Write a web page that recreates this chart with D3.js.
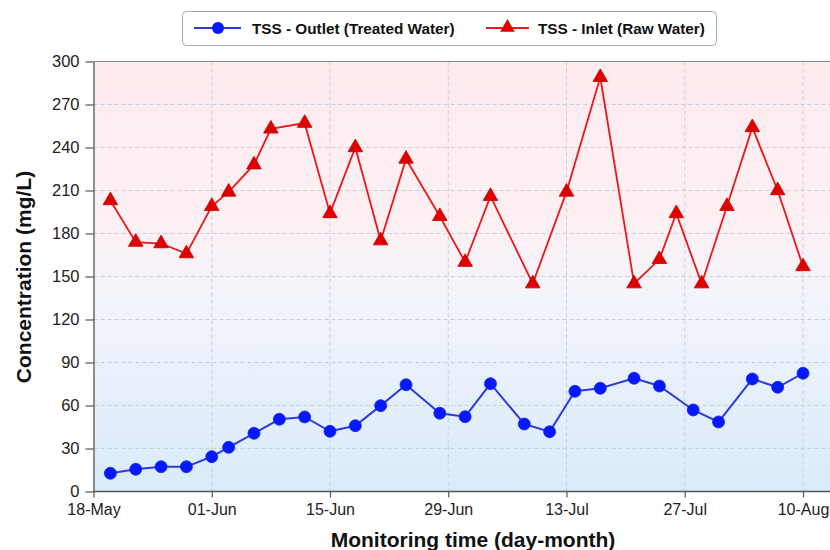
<!DOCTYPE html>
<html>
<head>
<meta charset="utf-8">
<script src="https://cdn.jsdelivr.net/npm/d3@7"></script>
<style>
  html, body { margin: 0; padding: 0; background: #ffffff; }
  svg { display: block; font-family: "Liberation Sans", Arial, Helvetica, sans-serif; }
</style>
</head>
<body>
<svg id="chart" width="830" height="550"></svg>
<script>
// ---------------- DATA ----------------
const outletDates = ["2021-05-20","2021-05-23","2021-05-26","2021-05-29","2021-06-01","2021-06-03","2021-06-06","2021-06-09","2021-06-12","2021-06-15","2021-06-18","2021-06-21","2021-06-24","2021-06-28","2021-07-01","2021-07-04","2021-07-08","2021-07-11","2021-07-14","2021-07-17","2021-07-21","2021-07-24","2021-07-28","2021-07-31","2021-08-04","2021-08-07","2021-08-10"];
const outletValues = [12.7, 15.5, 17.3, 17.3, 24.3, 30.8, 40.6, 50.4, 52, 42, 45.9, 59.9, 74.5, 54.6, 52.2, 75.2, 47.1, 41.7, 69.9, 72, 79, 73.6, 56.9, 48.5, 78.5, 72.7, 82.5];

const inletDates = ["2021-05-20","2021-05-23","2021-05-26","2021-05-29","2021-06-01","2021-06-03","2021-06-06","2021-06-08","2021-06-12","2021-06-15","2021-06-18","2021-06-21","2021-06-24","2021-06-28","2021-07-01","2021-07-04","2021-07-09","2021-07-13","2021-07-17","2021-07-21","2021-07-24","2021-07-26","2021-07-29","2021-08-01","2021-08-04","2021-08-07","2021-08-10"];
const inletValues = [203, 174, 173, 166, 199, 209, 228, 253, 257, 194, 240, 175, 232, 192, 160, 206, 145, 209, 289, 145, 162, 194, 145, 199, 254, 210, 157];

const xTickDates = ["2021-05-18","2021-06-01","2021-06-15","2021-06-29","2021-07-13","2021-07-27","2021-08-10"];
const yTickValues = [0, 30, 60, 90, 120, 150, 180, 210, 240, 270, 300];

const seriesNames = ["TSS - Outlet (Treated Water)", "TSS - Inlet (Raw Water)"];
const xTitle = "Monitoring time (day-month)";
const yTitle = "Concentration (mg/L)";

// ---------------- SETUP ----------------
const parse = d3.timeParse("%Y-%m-%d");
const fmt = d3.timeFormat("%d-%b");
const svg = d3.select("#chart");

const mLeft = 93.5, mTop = 61.5, mBottom = 491.5, plotRight = 840;

const x = d3.scaleTime()
  .domain([parse(xTickDates[0]), parse(xTickDates[xTickDates.length - 1])])
  .range([mLeft, 803]);
const y = d3.scaleLinear().domain([0, 300]).range([mBottom, mTop]);

// background gradient
const defs = svg.append("defs");
const grad = defs.append("linearGradient").attr("id", "bg").attr("x1", 0).attr("y1", 0).attr("x2", 0).attr("y2", 1);
grad.append("stop").attr("offset", "0%").attr("stop-color", "#fdebee");
grad.append("stop").attr("offset", "38%").attr("stop-color", "#fcf0f3");
grad.append("stop").attr("offset", "55%").attr("stop-color", "#f3f4fb");
grad.append("stop").attr("offset", "100%").attr("stop-color", "#d9ebfa");

svg.append("rect")
  .attr("x", mLeft).attr("y", mTop)
  .attr("width", plotRight - mLeft).attr("height", mBottom - mTop)
  .attr("fill", "url(#bg)");

// gridlines
const grid = svg.append("g");
grid.selectAll("line.h").data(yTickValues.filter(v => v > 0 && v < 300)).join("line")
  .attr("x1", mLeft).attr("x2", plotRight)
  .attr("y1", d => y(d)).attr("y2", d => y(d))
  .attr("stroke", "#c6cde0").attr("stroke-width", 1).attr("stroke-dasharray", "4,3");
grid.append("g").selectAll("line").data(xTickDates.slice(1).map(parse)).join("line")
  .attr("x1", d => x(d)).attr("x2", d => x(d))
  .attr("y1", mTop).attr("y2", mBottom)
  .attr("stroke", "#c6cde0").attr("stroke-width", 1).attr("stroke-dasharray", "4,3");

// top border
svg.append("line").attr("x1", mLeft).attr("x2", plotRight).attr("y1", mTop).attr("y2", mTop)
  .attr("stroke", "#8a8a8a").attr("stroke-width", 1.2);

// axes
const xAxis = d3.axisBottom(x).tickValues(xTickDates.map(parse)).tickFormat(fmt).tickSizeInner(6).tickSizeOuter(0).tickPadding(6);
const gx = svg.append("g").attr("transform", `translate(0,${mBottom})`).call(xAxis);
gx.select(".domain").attr("stroke", "#555").attr("stroke-width", 1.3).attr("d", `M${mLeft},0H${plotRight}`);
gx.selectAll(".tick line").attr("stroke", "#555").attr("stroke-width", 1.2);
gx.selectAll(".tick text").attr("fill", "#222").style("font-size", "16px");

const yAxis = d3.axisLeft(y).tickValues(yTickValues).tickSizeInner(8).tickSizeOuter(0).tickPadding(6);
const gy = svg.append("g").attr("transform", `translate(${mLeft},0)`).call(yAxis);
gy.select(".domain").attr("stroke", "#555").attr("stroke-width", 1.3);
gy.selectAll(".tick line").attr("stroke", "#555").attr("stroke-width", 1.2);
gy.selectAll(".tick text").attr("fill", "#222").style("font-size", "16.5px");

// axis titles
svg.append("text").attr("x", 473).attr("y", 547).attr("text-anchor", "middle")
  .style("font-size", "21px").style("font-weight", "bold").attr("fill", "#111").text(xTitle);
svg.append("text").attr("transform", "translate(31,277) rotate(-90)").attr("text-anchor", "middle")
  .style("font-size", "21px").style("font-weight", "bold").attr("fill", "#111").text(yTitle);

// series
const outlet = outletDates.map((d, i) => ({ date: parse(d), value: outletValues[i] }));
const inlet = inletDates.map((d, i) => ({ date: parse(d), value: inletValues[i] }));
const line = d3.line().x(d => x(d.date)).y(d => y(d.value));

svg.append("path").datum(inlet).attr("d", line).attr("fill", "none")
  .attr("stroke", "#e8181c").attr("stroke-width", 1.8);
svg.append("path").datum(outlet).attr("d", line).attr("fill", "none")
  .attr("stroke", "#2a3ce0").attr("stroke-width", 2);

const tri = d3.symbol().type(d3.symbolTriangle).size(92);
svg.append("g").selectAll("path").data(inlet).join("path")
  .attr("transform", d => `translate(${x(d.date)},${y(d.value)})`)
  .attr("d", tri).attr("fill", "#e00000").attr("stroke", "#c00000").attr("stroke-width", 0.8);

svg.append("g").selectAll("circle").data(outlet).join("circle")
  .attr("cx", d => x(d.date)).attr("cy", d => y(d.value)).attr("r", 6)
  .attr("fill", "#0518ff").attr("stroke", "#1428e0").attr("stroke-width", 0.8);

// legend
const lg = svg.append("g");
lg.append("rect").attr("x", 182.5).attr("y", 11.5).attr("width", 534).attr("height", 34).attr("rx", 4)
  .attr("fill", "#ffffff").attr("stroke", "#a8a8a8").attr("stroke-width", 1);
lg.append("line").attr("x1", 194).attr("x2", 241).attr("y1", 28).attr("y2", 28).attr("stroke", "#2a3ce0").attr("stroke-width", 2);
lg.append("circle").attr("cx", 218).attr("cy", 28).attr("r", 6).attr("fill", "#0518ff");
lg.append("text").attr("x", 252).attr("y", 33.5).style("font-size", "15.3px").style("font-weight", "bold").attr("fill", "#111").text(seriesNames[0]);
lg.append("line").attr("x1", 486).attr("x2", 529).attr("y1", 28).attr("y2", 28).attr("stroke", "#e8181c").attr("stroke-width", 1.8);
lg.append("path").attr("transform", "translate(507.5,27.5)").attr("d", tri).attr("fill", "#e00000");
lg.append("text").attr("x", 538).attr("y", 33.5).style("font-size", "15.3px").style("font-weight", "bold").attr("fill", "#111").text(seriesNames[1]);
</script>
</body>
</html>
